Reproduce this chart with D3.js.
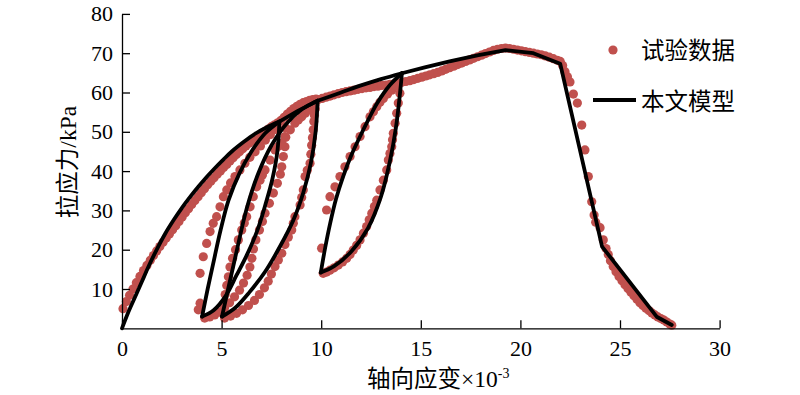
<!DOCTYPE html>
<html lang="zh">
<head>
<meta charset="UTF-8">
<title>拉应力-轴向应变</title>
<style>
  body { margin: 0; background: #fff; }
  svg text { font-family: "Liberation Serif", "Noto Sans CJK SC", serif; fill: #000; }
</style>
</head>
<body>
<div id="root"></div>
<script src="https://cdn.jsdelivr.net/npm/d3@7"></script>
<script>
// axis ticks
const xTicks = [0, 5, 10, 15, 20, 25, 30]
const yTicks = [10, 20, 30, 40, 50, 60, 70, 80]

// 试验数据 (strain x10^-3, stress kPa)
const expEnvelope = [[0.05,5.0],[0.22,6.8],[0.38,8.4],[0.55,10.0],[0.72,11.6],[0.9,13.2],[1.08,14.7],[1.25,16.0],[1.42,17.3],[1.58,18.5],[1.74,19.7],[1.9,20.8],[2.06,21.9],[2.22,23.0],[2.38,24.0],[2.54,25.1],[2.7,26.1],[2.86,27.2],[3.02,28.3],[3.18,29.4],[3.34,30.4],[3.5,31.5],[3.66,32.5],[3.82,33.5],[3.98,34.5],[4.14,35.5],[4.3,36.5],[4.46,37.4],[4.62,38.3],[4.78,39.2],[4.94,40.0],[5.1,40.9],[5.26,41.7],[5.42,42.6],[5.58,43.4],[5.74,44.2],[5.9,44.9],[6.06,45.7],[6.22,46.4],[6.38,47.1],[6.54,47.7],[6.7,48.4],[6.86,49.0],[7.02,49.6],[7.18,50.1],[7.34,50.7],[7.5,51.3],[7.66,51.8],[7.82,52.3],
  [7.98,52.9],[8.14,53.7],[8.3,54.5],[8.46,55.2],[8.62,55.9],[8.78,56.5],[8.94,57.0],[9.1,57.4],[9.26,57.7],[9.42,58.0],[9.58,58.2],[9.74,58.3]]
const expEnvelopeUpper = [[9.85,58.2],[10.05,58.5],[10.25,58.8],[10.45,59.1],[10.65,59.4],[10.85,59.7],[11.05,60.0],[11.25,60.2],[11.45,60.4],[11.65,60.6],[11.85,60.8],[12.05,61.0],[12.25,61.2],[12.45,61.3],[12.65,61.5],[12.85,61.6],[13.05,61.8],[13.25,61.9],[13.45,62.1],[13.65,62.2],[13.85,62.4],[14.05,62.6],[14.25,62.8],[14.45,63.0],[14.65,63.3],[14.85,63.6],[15.05,63.9],[15.25,64.2],[15.45,64.5],[15.65,64.8],[15.85,65.1],[16.05,65.5],[16.25,65.9],[16.45,66.3],[16.65,66.7],[16.85,67.1],[17.05,67.5],[17.25,67.9],[17.45,68.3],[17.65,68.7],[17.85,69.1],[18.05,69.5],[18.25,69.9],[18.45,70.3],[18.65,70.7],[18.85,71.0],[19.05,71.2],[19.25,71.3],[19.45,71.2],[19.65,71.0],[19.85,70.8],[20.05,70.6],[20.25,70.4],[20.45,70.2],[20.65,70.0],[20.85,69.8],[21.05,69.6],[21.25,69.3],[21.45,69.0],[21.65,68.6],[21.85,68.2]]
const expDescent = [[22.0,67.9],[22.12,66.9],[22.24,65.3],[22.36,64.0],[22.49,62.7],[22.66,59.6],[22.86,57.3],[23.08,51.7],[23.24,45.4],[23.41,38.6],[23.58,32.2],[23.7,28.8],[23.78,27.0],[24.0,25.6],[24.16,22.5],[24.3,20.3],[24.41,18.8],[24.52,17.2],[24.66,15.7],[24.8,14.4],[24.95,13.2],[25.1,12.1],[25.25,11.1],[25.4,10.1],[25.55,9.2],[25.7,8.3],[25.85,7.4],[26.0,6.5],[26.15,5.8],[26.3,5.1],[26.45,4.5],[26.6,3.9],[26.75,3.4],[26.9,2.9],[27.05,2.5],[27.2,2.1],[27.35,1.6],[27.5,1.1],[27.6,0.8]]
const expLoop1Left = [[3.83,4.7],[3.92,6.4],[3.92,14.0],[4.08,18.2],[4.25,21.6],[4.42,24.6],[4.58,26.7],[4.75,28.4],[4.92,30.9],[5.09,33.5],[5.26,35.2],[5.45,37.0],[5.67,38.6],[5.92,40.3],[6.17,42.0],[6.42,43.5],[6.68,44.9],[6.95,46.4],[7.2,47.9],[7.45,49.3],[7.7,50.6]]
const expLoop1Right = [[4.15,2.6],[4.4,2.9],[4.65,3.4],[4.9,4.2],[5.15,5.2],[5.4,6.5],[5.65,8.0],[5.9,9.7],[6.1,11.5],[6.28,13.5],[6.42,15.6],[6.52,17.8],[6.6,20.2],[6.72,22.5],[6.9,25.0],[7.05,27.2],[7.18,29.3],[7.4,31.8],[7.6,34.4],[7.8,36.9],[7.95,39.2],[8.02,41.1],[8.1,43.7],[8.18,46.2],[8.22,48.6],[8.2,51.0]]
const expLoop2Left = [[5.05,3.8],[5.1,6.2],[5.18,8.6],[5.26,10.9],[5.34,13.1],[5.42,15.6],[5.55,17.8],[5.7,20.0],[5.84,22.5],[6.01,25.0],[6.14,26.8],[6.26,28.4],[6.43,30.9],[6.59,33.5],[6.76,36.0],[6.93,37.7],[7.05,39.0],[7.18,40.3],[7.43,42.8],[7.68,45.4],[7.85,46.3],[8.02,47.1],[8.18,48.8],[8.45,50.5],[8.68,52.2],[8.85,53.0],[9.02,53.8],[9.2,54.7],[9.35,55.5],[9.52,56.2],[9.69,56.8]]
const expLoop2Right = [[5.15,2.6],[5.45,3.1],[5.75,3.8],[6.05,4.7],[6.35,5.8],[6.65,7.1],[6.9,8.6],[7.15,10.3],[7.34,12.0],[7.5,13.8],[7.68,15.7],[7.85,17.4],[8.02,19.1],[8.18,21.3],[8.35,23.2],[8.52,25.0],[8.6,26.7],[8.68,28.4],[8.94,31.4],[9.02,33.3],[9.1,35.2],[9.19,38.6],[9.3,40.2],[9.44,42.0],[9.48,44.3],[9.52,46.6],[9.56,48.5],[9.6,50.5],[9.63,52.6],[9.66,54.2],[9.7,55.8]]
const expLoop3Left = [[10.02,20.4],[10.27,30.1],[10.44,33.5],[10.69,36.0],[10.94,38.6],[11.19,41.1],[11.45,43.7],[11.7,46.2],[11.95,48.8],[12.2,51.3],[12.45,53.8],[12.62,55.1],[12.79,56.4],[12.95,57.5],[13.12,58.5],[13.33,59.6],[13.54,60.6],[13.75,61.6]]
const expLoop3Right = [[10.1,14.0],[10.27,14.3],[10.44,14.8],[10.65,15.4],[10.86,16.1],[11.07,16.9],[11.28,17.8],[11.45,18.8],[11.61,19.9],[11.78,21.1],[11.95,22.5],[12.12,24.2],[12.28,25.9],[12.41,27.6],[12.54,29.3],[12.67,31.0],[12.79,32.6],[12.95,35.2],[13.12,37.7],[13.29,40.3],[13.37,42.8],[13.45,44.5],[13.54,46.2],[13.58,48.0],[13.62,49.6],[13.71,52.2],[13.79,54.7],[13.87,57.3],[13.95,59.8]]

// 本文模型
const modelEnvelope1 = [[0,0],[0.3,3.9],[0.65,7.9],[1.0,11.9],[1.32,15.6],[1.75,20.1],[2.16,24.0],[2.6,27.6],[3.0,30.6],[3.4,33.3],[3.83,36.0],[4.25,38.5],[4.67,40.8],[5.1,43.0],[5.51,45.0],[6.1,47.4],[6.68,49.5],[7.25,51.1],[7.9,52.6]]
const modelUnload1 = [[7.9,52.6],[7.8,45],[7.55,38],[7.2,31.5],[6.8,25],[6.3,19],[5.75,13.5],[5.2,8.2],[4.6,4.6],[4.02,3.0]]
const modelReload1 = [[4.02,3.0],[4.3,10],[4.58,16.5],[4.95,25],[5.35,32.6],[5.9,39.5],[6.5,45],[7.2,49.7],[7.9,52.6]]
const modelEnvelope2 = [[7.9,52.6],[8.85,55.4],[9.82,57.9]]
const modelUnload2 = [[9.82,57.9],[9.72,50],[9.48,42],[9.1,34.5],[8.6,27.5],[7.95,21],[7.2,14.5],[6.4,9.2],[5.7,5.3],[5.02,3.0]]
const modelReload2 = [[5.02,3.0],[5.35,10.5],[5.75,19.5],[6.26,30.5],[6.85,39.5],[7.5,46.5],[8.3,52.3],[9.05,55.8],[9.82,57.9]]
const modelEnvelope3 = [[9.82,57.9],[11.0,60.0],[12.0,61.8],[13.0,63.4],[14.05,64.9]]
const modelUnload3 = [[14.05,64.9],[13.96,60],[13.75,51],[13.45,42.5],[13.0,33.5],[12.35,25.5],[11.5,19.5],[10.65,15.8],[9.98,14.2]]
const modelReload3 = [[9.98,14.2],[10.2,20.5],[10.45,26.7],[10.75,33],[11.1,38.6],[11.5,43.9],[11.95,48.8],[12.4,53.4],[12.8,57.2],[13.45,61.9],[14.05,64.9]]
const modelEnvelope4 = [[14.05,64.9],[15.2,66.4],[16.5,68.0],[17.9,69.5],[19.25,70.8],[20.65,70.0],[22.0,67.3],[24.1,20.8],[26.84,2.95],[27.6,0.85]]

const width = 800, height = 395
const svg = d3.select("#root").append("svg")
  .attr("width", width)
  .attr("height", height)

const x = d3.scaleLinear().domain([0, 30]).range([122, 719.6])
const y = d3.scaleLinear().domain([0, 80]).range([328.3, 13.9])

// data dots
const allExp = [].concat(expEnvelope, expEnvelopeUpper, expDescent,
  expLoop1Left, expLoop1Right, expLoop2Left, expLoop2Right, expLoop3Left, expLoop3Right)

svg.append("g").selectAll("circle")
  .data(allExp)
  .join("circle")
  .attr("cx", d => x(d[0]))
  .attr("cy", d => y(d[1]))
  .attr("r", 4.6)
  .attr("fill", "#c0504d")

// model lines
const smooth = d3.line().x(d => x(d[0])).y(d => y(d[1])).curve(d3.curveCatmullRom.alpha(0.5))
const straight = d3.line().x(d => x(d[0])).y(d => y(d[1]))

const curves = [modelEnvelope1, modelUnload1, modelReload1, modelUnload2, modelReload2,
  modelEnvelope3, modelUnload3, modelReload3]
svg.append("g").selectAll("path")
  .data(curves)
  .join("path")
  .attr("d", smooth)
  .attr("fill", "none")
  .attr("stroke", "#000")
  .attr("stroke-width", 3.8)
  .attr("stroke-linejoin", "round")
  .attr("stroke-linecap", "round")

svg.append("g").selectAll("path")
  .data([modelEnvelope2, modelEnvelope4])
  .join("path")
  .attr("d", straight)
  .attr("fill", "none")
  .attr("stroke", "#000")
  .attr("stroke-width", 3.8)
  .attr("stroke-linejoin", "round")
  .attr("stroke-linecap", "round")

// axes
const xAxis = d3.axisBottom(x).tickValues(xTicks).tickSize(-8).tickSizeOuter(0).tickPadding(12)
const yAxis = d3.axisLeft(y).tickValues(yTicks).tickSize(-8).tickSizeOuter(0).tickPadding(9)

const gx = svg.append("g").attr("transform", `translate(0,${y(0)})`).call(xAxis)
const gy = svg.append("g").attr("transform", `translate(${x(0)},0)`).call(yAxis)

for (const g of [gx, gy]) {
  g.selectAll("path, line").attr("stroke", "#000").attr("stroke-width", 1.3)
  g.selectAll("text")
    .style("font-family", "'Liberation Serif', serif")
    .style("font-size", "22px")
    .attr("fill", "#000")
}

// axis titles
const xt = svg.append("text")
  .attr("x", 367)
  .attr("y", 387)
  .style("font-size", "23.5px")
xt.append("tspan").text("轴向应变×10")
xt.append("tspan").text("-3").style("font-size", "14px").attr("dy", -9)

svg.append("text")
  .attr("transform", "translate(76,162) rotate(-90)")
  .attr("text-anchor", "middle")
  .style("font-size", "23.5px")
  .text("拉应力/kPa")

// legend
const legend = svg.append("g")
legend.append("circle").attr("cx", 613).attr("cy", 50).attr("r", 4.6).attr("fill", "#c0504d")
legend.append("text").attr("x", 641).attr("y", 59).style("font-size", "23.5px").text("试验数据")
legend.append("line").attr("x1", 593).attr("x2", 636).attr("y1", 100).attr("y2", 100)
  .attr("stroke", "#000").attr("stroke-width", 3.8)
legend.append("text").attr("x", 641).attr("y", 110).style("font-size", "23.5px").text("本文模型")
</script>
</body>
</html>
